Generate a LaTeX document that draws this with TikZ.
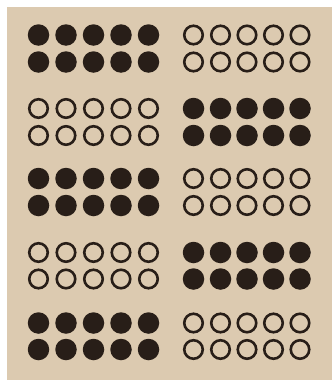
\documentclass[tikz,border=0pt]{standalone}
\definecolor{paper}{RGB}{220,202,176}
\definecolor{ink}{RGB}{40,30,24}
\begin{document}
\begin{tikzpicture}[x=1pt,y=-1pt,
  fdot/.style={circle,fill=ink,minimum size=21.5pt,inner sep=0pt},
  odot/.style={circle,draw=ink,line width=2.6pt,minimum size=18.5pt,inner sep=0pt}]
  \fill[white] (0,0) rectangle (332,380);
  \fill[paper] (7,7) rectangle (332,380);
  \useasboundingbox (0,0) rectangle (332,380);
  \foreach \b/\ya/\yb/\ls/\rs in {1/35/62/fdot/odot, 2/108.5/135.5/odot/fdot, 3/178.5/205.5/fdot/odot, 4/252.5/279/odot/fdot, 5/323/349.5/fdot/odot}{
    \foreach \c/\xl/\xr in {1/38.5/193.5, 2/66/220.5, 3/93.5/247, 4/121/273.5, 5/148.5/300}{
      \node[\ls] (L\b a\c) at (\xl,\ya) {};
      \node[\ls] (L\b b\c) at (\xl,\yb) {};
      \node[\rs] (R\b a\c) at (\xr,\ya) {};
      \node[\rs] (R\b b\c) at (\xr,\yb) {};
    }
  }
\end{tikzpicture}
\end{document}
